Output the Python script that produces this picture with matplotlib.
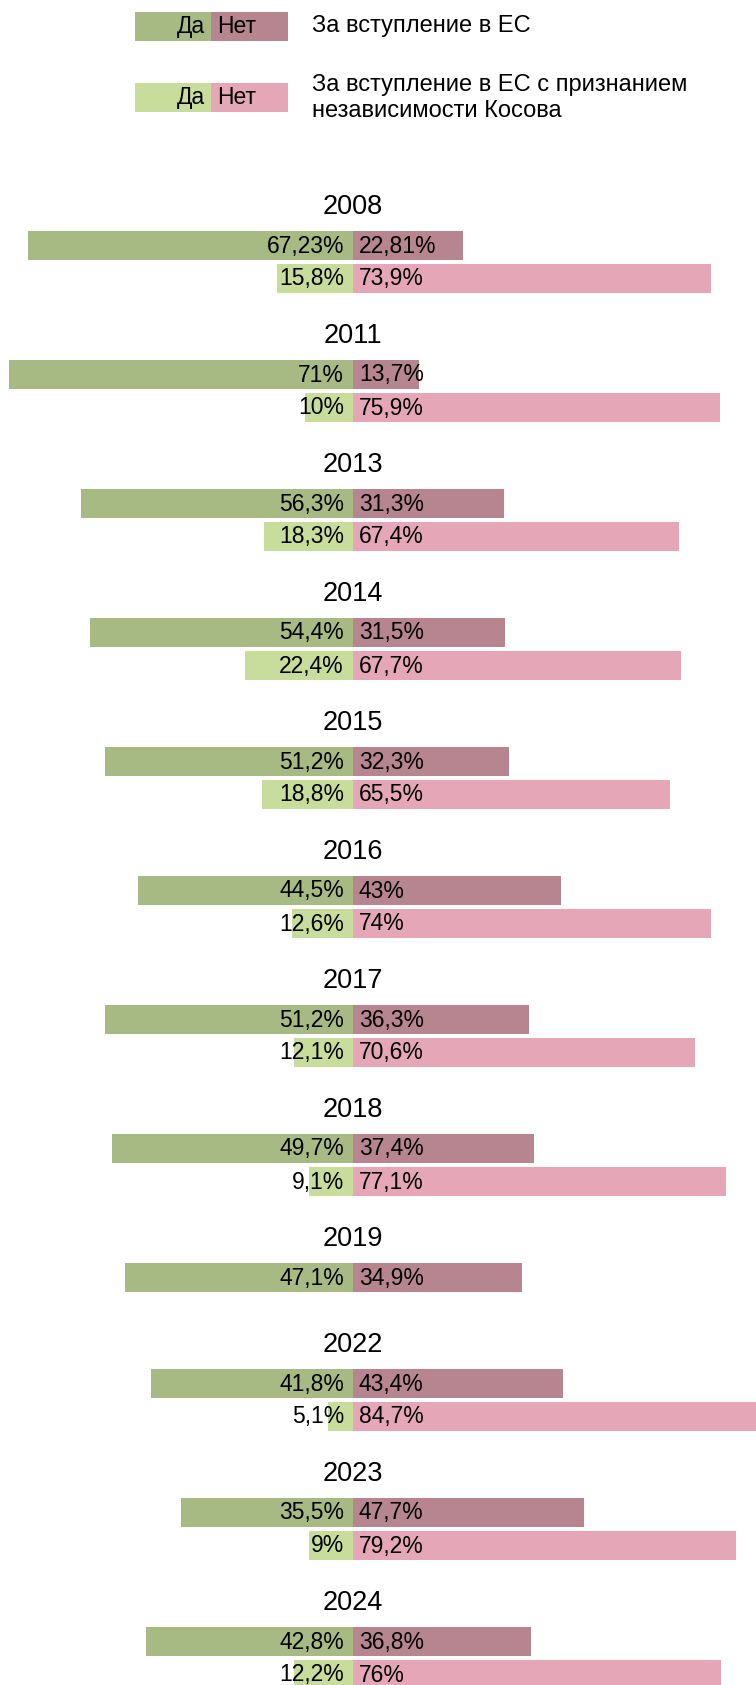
import matplotlib.pyplot as plt

plt.rcParams['font.family'] = ['Liberation Sans', 'DejaVu Sans']

# --- DATA ---
years = ['2008', '2011', '2013', '2014', '2015', '2016', '2017', '2018',
         '2019', '2022', '2023', '2024']
eu_yes = [67.23, 71, 56.3, 54.4, 51.2, 44.5, 51.2, 49.7, 47.1, 41.8, 35.5, 42.8]
eu_no = [22.81, 13.7, 31.3, 31.5, 32.3, 43, 36.3, 37.4, 34.9, 43.4, 47.7, 36.8]
kosovo_yes = [15.8, 10, 18.3, 22.4, 18.8, 12.6, 12.1, 9.1, None, 5.1, 9, 12.2]
kosovo_no = [73.9, 75.9, 67.4, 67.7, 65.5, 74, 70.6, 77.1, None, 84.7, 79.2, 76]

legend_labels = ['За вступление в ЕС',
                 'За вступление в ЕС с признанием\nнезависимости Косова']

# --- STYLE / LAYOUT ---
C_EU_YES = '#a7ba84'
C_EU_NO = '#b6858f'
C_KOS_YES = '#c8dc9b'
C_KOS_NO = '#e5a7b8'

W, H = 756, 1685
CENTER = 353          # px, zero line
PX_PER_PCT = 4.84     # bar scale
BAR_H = 29
VAL_FS = 16.5
YEAR_FS = 19.5


def px(x):
    # pixel column -> percent units of the axes
    return (x - CENTER) / PX_PER_PCT


def fmt(v):
    return f"{v:g}".replace('.', ',') + '%'


fig = plt.figure(figsize=(W / 100, H / 100), dpi=100)
ax = fig.add_axes([0, 0, 1, 1])
ax.set_xlim(px(0), px(W))
ax.set_ylim(H, 0)
ax.axis('off')

# --- LEGEND ---
legend_rows = [(26.5, C_EU_YES, C_EU_NO, 26), (97.5, C_KOS_YES, C_KOS_NO, 98)]
for (yc, c_yes, c_no, ty), label in zip(legend_rows, legend_labels):
    ax.barh(yc, px(211) - px(135), left=px(135), height=BAR_H, color=c_yes, lw=0)
    ax.barh(yc, px(288) - px(211), left=px(211), height=BAR_H, color=c_no, lw=0)
    ax.text(px(205), yc, 'Да', ha='right', va='center', fontsize=VAL_FS)
    ax.text(px(217), yc, 'Нет', ha='left', va='center', fontsize=VAL_FS)
    ax.text(px(312), ty, label, ha='left', va='center', fontsize=17,
            linespacing=1.25)


def value_labels(y, yes, no):
    ax.annotate(fmt(yes), (0, y), xytext=(-6.5, 0), textcoords='offset points',
                ha='right', va='center', fontsize=VAL_FS)
    ax.annotate(fmt(no), (0, y), xytext=(4.3, 0), textcoords='offset points',
                ha='left', va='center', fontsize=VAL_FS)


# --- GROUPS ---
y = 207
for i, year in enumerate(years):
    ax.text(0, y, year, ha='center', va='center', fontsize=YEAR_FS)

    y1 = y + 39
    ax.barh(y1, -eu_yes[i], height=BAR_H, color=C_EU_YES, lw=0)
    ax.barh(y1, eu_no[i], height=BAR_H, color=C_EU_NO, lw=0)
    value_labels(y1, eu_yes[i], eu_no[i])

    if kosovo_yes[i] is not None:
        y2 = y + 72
        ax.barh(y2, -kosovo_yes[i], height=BAR_H, color=C_KOS_YES, lw=0)
        ax.barh(y2, kosovo_no[i], height=BAR_H, color=C_KOS_NO, lw=0)
        value_labels(y2, kosovo_yes[i], kosovo_no[i])
        y += 129
    else:
        y += 106

fig.savefig('out.png', dpi=100)
